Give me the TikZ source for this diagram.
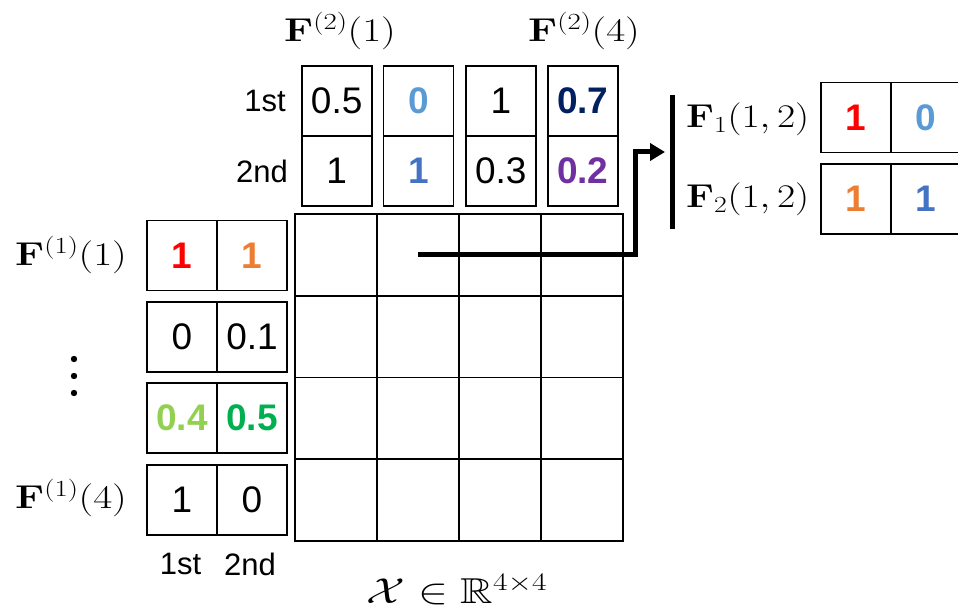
\documentclass[tikz,border=0pt]{standalone}
\usepackage{fix-cm}
\usepackage{amsmath,amssymb,graphicx}
\usepackage[no-math]{fontspec}
\setmainfont{Liberation Sans}
\usetikzlibrary{arrows.meta}
\definecolor{cred}{HTML}{FF0000}
\definecolor{corange}{HTML}{ED7D31}
\definecolor{clblue}{HTML}{5B9BD5}
\definecolor{cblue}{HTML}{4472C4}
\definecolor{cnavy}{HTML}{002060}
\definecolor{cpurple}{HTML}{7030A0}
\definecolor{clgreen}{HTML}{92D050}
\definecolor{cgreen}{HTML}{00B050}
\newcommand\mlab[1]{\scalebox{1.25}[1]{$#1$}}
\newcommand\mlabr[1]{\scalebox{1.2}[1]{$#1$}}
\tikzset{
  cell/.style={draw=black, line width=1.6pt, minimum width=70pt, minimum height=70pt, inner sep=0pt, outer sep=0pt,
    font=\fontsize{37}{40}\selectfont},
  gcell/.style={draw=black, line width=1.6pt, minimum width=82pt, minimum height=81.7pt, inner sep=0pt, outer sep=0pt},
  bnum/.style={font=\fontsize{37}{40}\selectfont\bfseries},
  lbl/.style={inner sep=0pt, font=\fontsize{31}{34}\selectfont},
  mlbl/.style={inner sep=0pt, font=\fontsize{33}{36}\selectfont},
  caplbl/.style={inner sep=0pt, font=\fontsize{36}{40}\selectfont},
  thick arrow/.style={line width=5pt},
}
\begin{document}
\begin{tikzpicture}[x=1pt,y=-1pt]
\useasboundingbox (0,0) rectangle (958,612);
% grid X
\foreach \r in {1,...,4}{
  \foreach \c in {1,...,4}{
    \node[gcell] (g\r\c) at ({295+82*(\c-0.5)},{214+81.7*(\r-0.5)}) {};
  }
}
% top boxes F^(2)
\node[cell] (t11) at (336.7,101) {0.5};
\node[cell] (t12) at (336.7,171) {1};
\node[cell,bnum,text=clblue] (t21) at (418.5,101) {0};
\node[cell,bnum,text=cblue] (t22) at (418.5,171) {1};
\node[cell] (t31) at (500.8,101) {1};
\node[cell] (t32) at (500.8,171) {0.3};
\node[cell,bnum,text=cnavy] (t41) at (582.8,101) {0.7};
\node[cell,bnum,text=cpurple] (t42) at (582.8,171) {0.2};
\node[lbl,anchor=east] (l1st) at (286,101) {1st};
\node[lbl,anchor=east] (l2nd) at (288,171) {2nd};
\node[mlbl] (f21) at (340,31) {\mlab{\mathbf{F}^{(2)}(1)}};
\node[mlbl] (f24) at (584,31) {\mlab{\mathbf{F}^{(2)}(4)}};
% left boxes F^(1)
\node[cell,bnum,text=cred] (a11) at (182,255.5) {1};
\node[cell,bnum,text=corange] (a12) at (252,255.5) {1};
\node[cell] (a21) at (182,336.7) {0};
\node[cell] (a22) at (252,336.7) {0.1};
\node[cell,bnum,text=clgreen] (a31) at (182,418) {0.4};
\node[cell,bnum,text=cgreen] (a32) at (252,418) {0.5};
\node[cell] (a41) at (182,499.7) {1};
\node[cell] (a42) at (252,499.7) {0};
\node[lbl] (b1st) at (180.5,564) {1st};
\node[lbl] (b2nd) at (250,564) {2nd};
\node[mlbl] (f11) at (71,255) {\mlab{\mathbf{F}^{(1)}(1)}};
\node[mlbl] (f14) at (71,498) {\mlab{\mathbf{F}^{(1)}(4)}};
\foreach \yy in {359,376,393}{
  \fill (74,\yy) circle (3.2pt);
}
% caption
\node[caplbl] (cap) at (457,590) {\mlab{\mathcal{X}\in\mathbb{R}^{4\times 4}}};
% right boxes
\node[cell,bnum,text=cred] (r11) at (855.7,117.7) {1};
\node[cell,bnum,text=clblue] (r12) at (925.7,117.7) {0};
\node[cell,bnum,text=corange] (r21) at (855.7,199) {1};
\node[cell,bnum,text=cblue] (r22) at (925.7,199) {1};
\node[mlbl,anchor=west] (fa) at (686,119) {\mlabr{\mathbf{F}_1(1,2)}};
\node[mlbl,anchor=west] (fb) at (686,199) {\mlabr{\mathbf{F}_2(1,2)}};
\coordinate (bartop) at (672.5,95);
\coordinate (barbot) at (672.5,229);
\draw[line width=5pt] (bartop) -- (barbot);
\coordinate (tip) at (665,152);
\draw[thick arrow, -{Triangle[length=15pt,width=17pt]}] (g12.center) -| (635,152) -- (tip);
\end{tikzpicture}
\end{document}
